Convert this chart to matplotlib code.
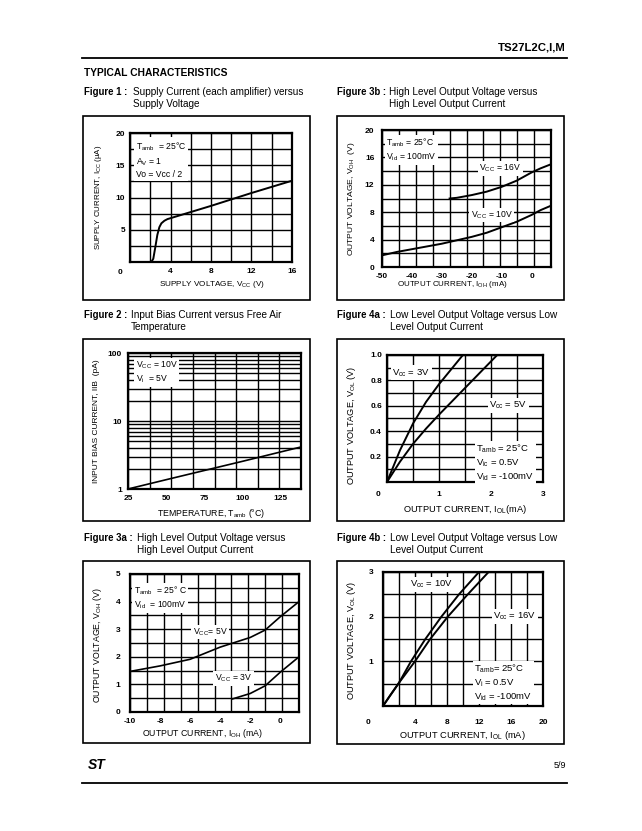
import numpy as np
import matplotlib.pyplot as plt
from matplotlib.patches import Rectangle
from matplotlib.lines import Line2D
from matplotlib.ticker import NullFormatter

plt.rcParams['font.family'] = ['Liberation Sans', 'DejaVu Sans']
plt.rcParams['mathtext.fontset'] = 'custom'
plt.rcParams['mathtext.rm'] = 'Liberation Sans'
plt.rcParams['mathtext.it'] = 'Liberation Sans:italic'
plt.rcParams['mathtext.bf'] = 'Liberation Sans:bold'

W, H = 642, 831

# Figure 1 : supply current vs supply voltage
f1_vcc = [0, 2.1, 2.3, 2.5, 2.7, 2.9, 3.1, 3.4, 3.7, 8, 12, 16]
f1_icc = [0, 0, 0.5, 2.3, 4.2, 5.4, 6.0, 6.4, 6.65, 8.7, 10.7, 12.6]

# Figure 3b : high level output voltage vs current (Vcc = 16V / 10V)
f3b_ioh16 = [-27.4, -25, -20, -15, -10, -5, 0, 3, 6.5]
f3b_voh16 = [10.0, 10.1, 10.5, 11.0, 11.7, 12.6, 13.8, 14.4, 15.0]
f3b_ioh10 = [-50, -45, -40, -35, -30, -25, -20, -15, -10, -5, 0, 3, 6.5]
f3b_voh10 = [1.7, 2.2, 2.6, 3.0, 3.4, 3.9, 4.4, 5.0, 5.8, 6.6, 7.6, 8.3, 8.95]

# Figure 2 : input bias current vs temperature
f2_temp = [25, 50, 75, 100, 125, 138.5]
f2_iib = [1.0, 1.37, 1.87, 2.55, 3.5, 4.15]

# Figure 4a : low level output voltage vs current (Vcc = 3V / 5V)
f4a_iol3 = [0, 0.25, 0.5, 0.75, 1.0, 1.25, 1.46]
f4a_vol3 = [0, 0.25, 0.46, 0.63, 0.77, 0.895, 1.0]
f4a_iol5 = [0, 0.25, 0.5, 0.75, 1.0, 1.25, 1.5, 1.75, 2.0, 2.12]
f4a_vol5 = [0, 0.16, 0.30, 0.42, 0.53, 0.635, 0.74, 0.845, 0.95, 1.0]

# Figure 3a : high level output voltage vs current (Vcc = 5V / 3V)
f3a_ioh5 = [-10, -8, -6, -4, -2, -1, 0, 1.25]
f3a_voh5 = [1.47, 1.67, 1.91, 2.35, 2.70, 2.97, 3.45, 4.0]
f3a_ioh3 = [-3.2, -2, -1, 0, 1.25]
f3a_voh3 = [0.47, 0.67, 0.95, 1.44, 2.0]

# Figure 4b : low level output voltage vs current (Vcc = 10V / 16V)
f4b_iol10 = [0, 1.0, 2.0, 3.5, 5.3, 7.3, 9.5, 12.0]
f4b_vol10 = [0, 0.26, 0.52, 1.0, 1.5, 2.0, 2.5, 3.0]
f4b_iol16 = [0, 0.9, 2.0, 4.0, 5.9, 8.1, 10.6, 13.2]
f4b_vol16 = [0, 0.24, 0.52, 1.0, 1.5, 2.0, 2.5, 3.0]

fig = plt.figure(figsize=(W / 100, H / 100), dpi=100)


def ptext(x, y, s, **kw):
    fig.text(x / W, 1 - y / H, s, **kw)


def hline(y, x0, x1, lw=1.3):
    fig.add_artist(Line2D([x0 / W, x1 / W], [1 - y / H, 1 - y / H], color='black', lw=lw))


def frame(x0, y0, x1, y1):
    fig.add_artist(Rectangle((x0 / W, 1 - y1 / H), (x1 - x0) / W, (y1 - y0) / H,
                             fill=False, ec='black', lw=1.2))


def make_ax(box, xlim, ylim, xgrid, ygrid, xticks, yticks, xpad, ypad, logy=False):
    x0, y0, x1, y1 = box
    ax = fig.add_axes([x0 / W, 1 - y1 / H, (x1 - x0) / W, (y1 - y0) / H])
    if logy:
        ax.set_yscale('log')
    ax.set_xlim(*xlim)
    ax.set_ylim(*ylim)
    for g in xgrid:
        ax.axvline(g, color='black', lw=1.0, zorder=1)
    for g in ygrid:
        ax.axhline(g, color='black', lw=1.0, zorder=1)
    ax.set_xticks(xticks)
    ax.set_xticklabels([('%g' % t) for t in xticks])
    ax.set_yticks(yticks)
    ax.set_yticklabels([('%g' % t) for t in yticks])
    ax.xaxis.set_minor_formatter(NullFormatter())
    ax.yaxis.set_minor_formatter(NullFormatter())
    ax.tick_params(which='both', length=0, labelsize=6)
    ax.tick_params(axis='x', pad=xpad)
    ax.tick_params(axis='y', pad=ypad)
    for lab in ax.get_xticklabels() + ax.get_yticklabels():
        lab.set_fontweight('bold')
    for s in ax.spines.values():
        s.set_linewidth(1.6)
        s.set_zorder(3)
    return ax


def labels(ax, box, xlab, ylab, xpos, ypos, xsize, ysize):
    x0, y0, x1, y1 = box
    ax.set_xlabel(xlab, fontsize=xsize, va='center', ha='center')
    ax.xaxis.set_label_coords((xpos[0] - x0) / (x1 - x0), (y1 - xpos[1]) / (y1 - y0))
    ax.set_ylabel(ylab, fontsize=ysize, va='center', ha='center')
    ax.yaxis.set_label_coords((ypos[0] - x0) / (x1 - x0), (y1 - ypos[1]) / (y1 - y0))


def note(ax, x, y, s, ha='left', va='top', size=6.2):
    ax.text(x, y, s, ha=ha, va=va, fontsize=size, zorder=4, linespacing=1.3,
            bbox=dict(fc='white', ec='none', pad=1.2))


def title(x_bold, x_text, y, bold, line1, line2):
    ptext(x_bold, y, bold, fontsize=6.9, fontweight='bold', va='center')
    ptext(x_text, y, line1, fontsize=7.2, va='center')
    ptext(x_text, y + 12, line2, fontsize=7.2, va='center')


def sub(s):
    return r'$_{\mathrm{%s}}$' % s


# page header / footer
ptext(566, 47, 'TS27L2C,I,M', fontsize=8.2, fontweight='bold', ha='right', va='center')
hline(58, 82, 567)
ptext(84, 73, 'TYPICAL CHARACTERISTICS', fontsize=7.4, fontweight='bold', va='center')
hline(783, 82, 567)
ptext(88, 765, 'ST', fontsize=10, fontweight='bold', style='italic', va='center')
ptext(566, 765, '5/9', fontsize=6.5, ha='right', va='center')

# titles
title(84, 133, 92, 'Figure 1 :', 'Supply Current (each amplifier) versus', 'Supply Voltage')
title(337, 389, 92, 'Figure 3b :', 'High Level Output Voltage versus', 'High Level Output Current')
title(84, 131, 315, 'Figure 2 :', 'Input Bias Current versus Free Air', 'Temperature')
title(337, 390, 315, 'Figure 4a :', 'Low Level Output Voltage versus Low', 'Level Output Current')
title(84, 137, 538, 'Figure 3a :', 'High Level Output Voltage versus', 'High Level Output Current')
title(337, 390, 538, 'Figure 4b :', 'Low Level Output Voltage versus Low', 'Level Output Current')

# outer frames
frame(83, 116, 310, 300)
frame(337, 116, 564, 300)
frame(83, 339, 310, 521)
frame(337, 339, 564, 521)
frame(83, 561, 310, 743)
frame(337, 561, 564, 744)

# ---- Figure 1
b1 = (130, 133, 292, 262)
ax = make_ax(b1, (0, 16), (0, 20), np.arange(0, 17, 2), np.arange(0, 21, 2.5),
             [4, 8, 12, 16], [5, 10, 15, 20], 4.5, 3.6)
ax.plot(f1_vcc, f1_icc, color='black', lw=1.4, zorder=2)
note(ax, 0.55, 18.9, 'T' + sub('amb') + '  = 25°C\nA' + sub('V') + ' = 1\nVo = Vcc / 2')
labels(ax, b1, 'SUPPLY VOLTAGE, V' + sub('CC') + ' (V)', 'SUPPLY CURRENT, I' + sub('CC') + ' (µA)',
       (212, 285), (98, 197), 5.9, 5.7)
ptext(120, 272, '0', fontsize=6, fontweight='bold', ha='center', va='center')

# ---- Figure 3b
b3b = (382, 130, 551, 267)
ax = make_ax(b3b, (-50, 6.5), (0, 20), np.linspace(-50, 6.5, 11), np.arange(0, 21, 2),
             [-50, -40, -30, -20, -10, 0], [0, 4, 8, 12, 16, 20], 4.0, 5.5)
ax.plot(f3b_ioh16, f3b_voh16, color='black', lw=1.4, zorder=2)
ax.plot(f3b_ioh10, f3b_voh10, color='black', lw=1.4, zorder=2)
note(ax, -48.5, 19.0, 'T' + sub('amb') + ' = 25°C\nV' + sub('id') + ' = 100mV')
note(ax, -10.5, 14.4, 'V' + sub('CC') + ' = 16V', ha='center', va='center')
note(ax, -13.3, 7.6, 'V' + sub('CC') + ' = 10V', ha='center', va='center')
labels(ax, b3b, 'OUTPUT CURRENT, I' + sub('OH') + ' (mA)', 'OUTPUT VOLTAGE, V' + sub('OH') + '  (V)',
       (452, 285), (352, 199), 5.8, 6.1)

# ---- Figure 2
b2 = (128, 353, 301, 489)
ygrid2 = [m * d for d in (1, 10) for m in range(1, 10)] + [100]
ax = make_ax(b2, (25, 138.5), (1, 100), np.linspace(25, 138.5, 9), ygrid2,
             [25, 50, 75, 100, 125], [1, 10, 100], 4.0, 4.3, logy=True)
ax.plot(f2_temp, f2_iib, color='black', lw=1.2, zorder=2)
note(ax, 30, 80, 'V' + sub('CC') + ' = 10V\nV' + sub('i') + '  = 5V')
labels(ax, b2, 'TEMPERATURE, T' + sub('amb') + ' (°C)', 'INPUT BIAS CURRENT, IIB  (pA)',
       (211, 513), (97, 421), 6.3, 6.0)

# ---- Figure 4a
b4a = (387, 355, 543, 482)
ax = make_ax(b4a, (0, 3), (0, 1), np.arange(0, 3.01, 0.5), np.arange(0, 1.01, 0.1),
             [1, 2, 3], [0.2, 0.4, 0.6, 0.8, 1.0], 6.8, 3.6)
ax.set_yticklabels(['0.2', '0.4', '0.6', '0.8', '1.0'])
for lab in ax.get_yticklabels():
    lab.set_fontweight('bold')
ax.plot(f4a_iol3, f4a_vol3, color='black', lw=1.4, zorder=2)
ax.plot(f4a_iol5, f4a_vol5, color='black', lw=1.4, zorder=2)
note(ax, 0.1, 0.86, 'V' + sub('cc') + ' = 3V', va='center', size=6.8)
note(ax, 2.33, 0.605, 'V' + sub('cc') + ' = 5V', ha='center', va='center', size=6.8)
note(ax, 1.72, 0.31, 'T' + sub('amb') + ' = 25°C\nV' + sub('ic') + ' = 0.5V\nV' + sub('id') + ' = -100mV',
     size=6.8)
labels(ax, b4a, 'OUTPUT CURRENT, I' + sub('OL') + '(mA)', 'OUTPUT VOLTAGE, V' + sub('OL') + ' (V)',
       (465, 510), (352, 425), 6.7, 6.6)
ptext(378, 495, '0', fontsize=6, fontweight='bold', ha='center', va='center')

# ---- Figure 3a
b3a = (130, 574, 299, 712)
ax = make_ax(b3a, (-10, 1.25), (0, 5), np.linspace(-10, 1.25, 11), np.arange(0, 5.01, 0.5),
             [-10, -8, -6, -4, -2, 0], [0, 1, 2, 3, 4, 5], 4.5, 7.0)
ax.plot(f3a_ioh5, f3a_voh5, color='black', lw=1.2, zorder=2)
ax.plot(f3a_ioh3, f3a_voh3, color='black', lw=1.2, zorder=2)
note(ax, -9.75, 4.62, 'T' + sub('amb') + '  = 25° C\nV' + sub('id') + '  = 100mV')
note(ax, -4.67, 2.9, 'V' + sub('CC') + '= 5V', ha='center', va='center')
note(ax, -3.1, 1.21, 'V' + sub('CC') + ' = 3V', ha='center', va='center')
labels(ax, b3a, 'OUTPUT CURRENT, I' + sub('OH') + ' (mA)', 'OUTPUT VOLTAGE, V' + sub('OH') + ' (V)',
       (202, 733), (98, 645), 6.3, 6.3)

# ---- Figure 4b
b4b = (383, 572, 543, 706)
ax = make_ax(b4b, (0, 20), (0, 3), np.arange(0, 21, 2), np.arange(0, 3.01, 0.5),
             [4, 8, 12, 16, 20], [1, 2, 3], 9.0, 7.0)
ax.plot(f4b_iol10, f4b_vol10, color='black', lw=1.4, zorder=2)
ax.plot(f4b_iol16, f4b_vol16, color='black', lw=1.4, zorder=2)
note(ax, 6.1, 2.72, 'V' + sub('cc') + ' = 10V', ha='center', va='center', size=6.8)
note(ax, 16.5, 2.0, 'V' + sub('cc') + ' = 16V', ha='center', va='center', size=6.8)
note(ax, 11.4, 0.98, 'T' + sub('amb') + '= 25°C\nV' + sub('i') + ' = 0.5V\nV' + sub('id') + ' = -100mV',
     size=6.8)
labels(ax, b4b, 'OUTPUT CURRENT, I' + sub('OL') + ' (mA)', 'OUTPUT VOLTAGE, V' + sub('OL') + ' (V)',
       (462, 735), (352, 640), 6.7, 6.6)
ptext(368, 722, '0', fontsize=6, fontweight='bold', ha='center', va='center')

fig.savefig('out.png', dpi=100)
